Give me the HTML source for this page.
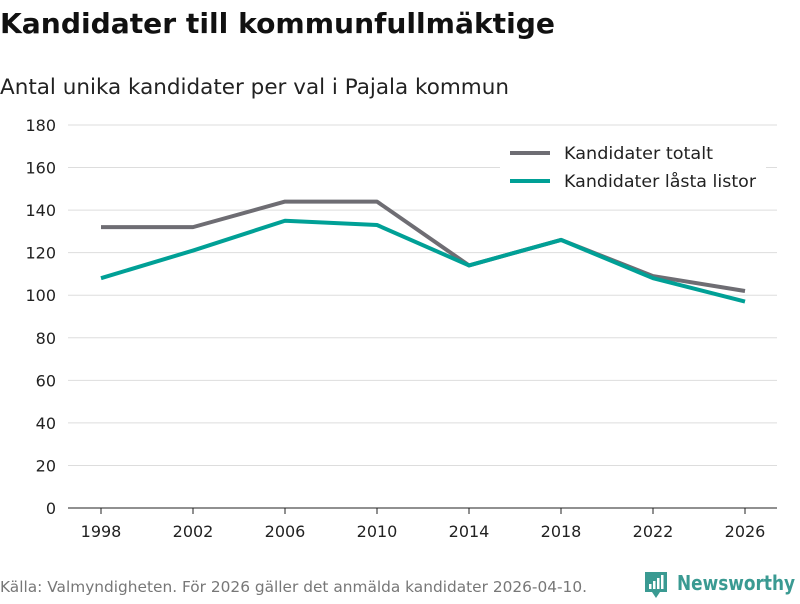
<!DOCTYPE html>
<html><head><meta charset="utf-8"><style>
body{margin:0;background:#fff;font-family:"DejaVu Sans","Liberation Sans",sans-serif;}
</style></head><body>
<svg width="800" height="600" xmlns="http://www.w3.org/2000/svg" font-family="DejaVu Sans, Liberation Sans, sans-serif">
<text x="0" y="33" font-size="28" font-weight="bold" fill="#111" textLength="555" lengthAdjust="spacingAndGlyphs">Kandidater till kommunfullmäktige</text>
<text x="0" y="94" font-size="21" fill="#222" textLength="509" lengthAdjust="spacingAndGlyphs">Antal unika kandidater per val i Pajala kommun</text>
<g id="grid"></g><g id="axes"></g><g id="lines"></g>
<g>
<rect x="500" y="140" width="266" height="58" fill="#fff"/>
<line x1="510" y1="153" x2="550" y2="153" stroke="#6e6d73" stroke-width="4"/>
<text x="564" y="159" font-size="17" fill="#222" textLength="149" lengthAdjust="spacingAndGlyphs">Kandidater totalt</text>
<line x1="510" y1="181" x2="550" y2="181" stroke="#00a096" stroke-width="4"/>
<text x="564" y="187" font-size="17" fill="#222" textLength="192" lengthAdjust="spacingAndGlyphs">Kandidater låsta listor</text>
</g>
<text x="0" y="592" font-size="15" fill="#777" textLength="587" lengthAdjust="spacingAndGlyphs">Källa: Valmyndigheten. För 2026 gäller det anmälda kandidater 2026-04-10.</text>
<g>
<path d="M645 572 h22 v20 h-7 l-4 6 l-4 -6 h-7 z" fill="#3a9a92"/>
<rect x="649" y="584" width="2.5" height="5" fill="#fff"/><rect x="653" y="581" width="2.5" height="8" fill="#fff"/><rect x="657" y="578" width="2.5" height="11" fill="#fff"/><rect x="661" y="575" width="2.5" height="14" fill="#fff"/>
<text x="677" y="590" font-size="20" font-weight="bold" fill="#3a9a92" textLength="118" lengthAdjust="spacingAndGlyphs">Newsworthy</text>
</g>
</svg>
<script>
const years=[1998,2002,2006,2010,2014,2018,2022,2026];
const totalt=[132,132,144,144,114,126,109,102];
const lasta=[108,121,135,133,114,126,108,97];
const yTicks=[0,20,40,60,80,100,120,140,160,180];
const NS="http://www.w3.org/2000/svg";
const x=v=>101+(v-1998)*(644/28);
const y=v=>508-v*(383/180);
const grid=document.getElementById('grid'),axes=document.getElementById('axes'),lines=document.getElementById('lines');
function mk(t,a){const e=document.createElementNS(NS,t);for(const k in a)e.setAttribute(k,a[k]);return e;}
yTicks.forEach(t=>{
 const l=mk('line',{x1:68,x2:777,y1:y(t),y2:y(t),stroke:t===0?'#222':'#ddd','stroke-width':1});
 
 
 grid.appendChild(l);
 const tx=mk('text',{x:56,y:y(t)+6,'text-anchor':'end','font-size':16,fill:'#222'});tx.textContent=t;
 
 
 axes.appendChild(tx);
});
years.forEach(yr=>{
 const tk=mk('line',{x1:x(yr),x2:x(yr),y1:508,y2:514,stroke:'#222'});
 
 
 axes.appendChild(tk);
 const tx=mk('text',{x:x(yr),y:537,'text-anchor':'middle','font-size':16,fill:'#222'});tx.textContent=yr;
 
 
 axes.appendChild(tx);
});
[[totalt,'#6e6d73','line-totalt'],[lasta,'#00a096','line-lasta']].forEach(([d,c,n])=>{
 const p=mk('polyline',{points:d.map((v,i)=>x(years[i])+','+y(v)).join(' '),fill:'none',stroke:c,'stroke-width':4,'stroke-linejoin':'round'});
 
 
 lines.appendChild(p);
});
</script>
</body></html>
